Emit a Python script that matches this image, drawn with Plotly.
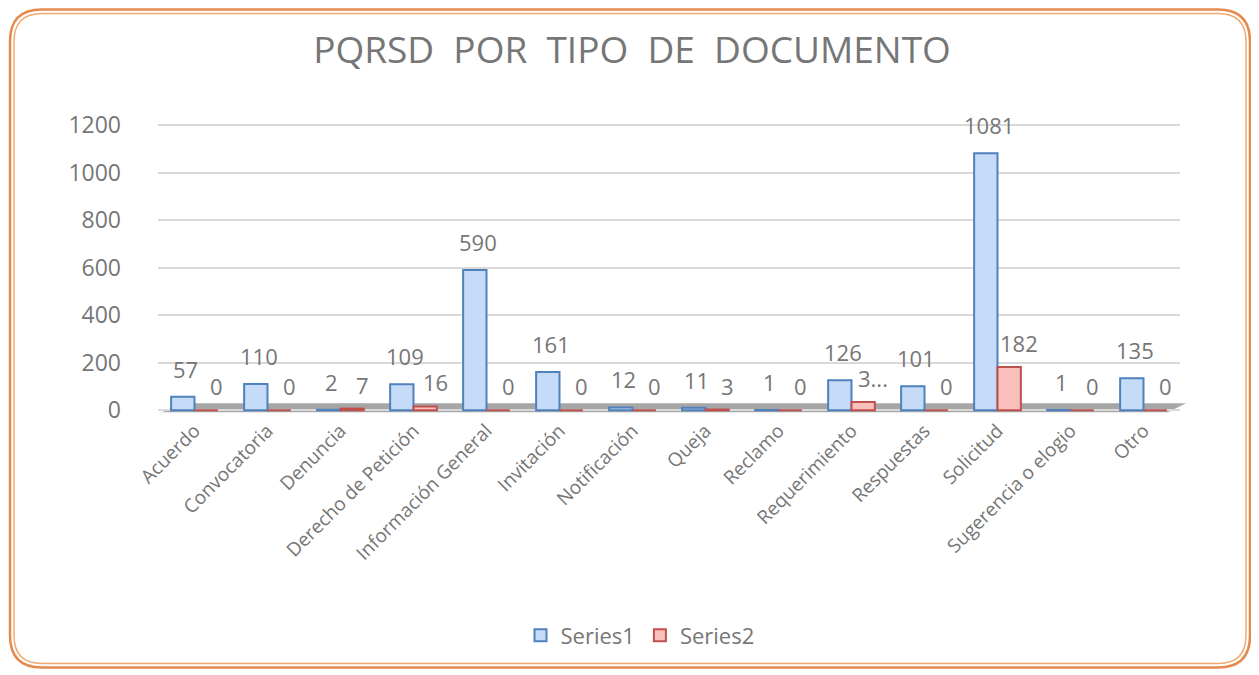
import plotly.graph_objects as go

categories = ["Acuerdo", "Convocatoria", "Denuncia", "Derecho de Petición", "Información General",
              "Invitación", "Notificación", "Queja", "Reclamo", "Requerimiento", "Respuestas",
              "Solicitud", "Sugerencia o elogio", "Otro"]
series1 = [57, 110, 2, 109, 590, 161, 12, 11, 1, 126, 101, 1081, 1, 135]
series2 = [0, 0, 7, 16, 0, 0, 0, 3, 0, 35, 0, 182, 0, 0]
series2_labels = ["0", "0", "7", "16", "0", "0", "0", "3", "0", "3...", "0", "182", "0", "0"]
y_ticks = [0, 200, 400, 600, 800, 1000, 1200]

FONT = "Open Sans"
GRAY = "#767676"
OFF = 8  # page body margin
BARGAP = 0.36

FW, FH = 1259 - OFF, 675 - OFF
# plot area in reference pixel coords
PL, PR, PT, PB = 158, 1180, 120, 414.75
L = PL - OFF
R = FW - (PR - OFF)
T = PT - OFF
B = FH - (PB - OFF)
W = PR - PL
H = PB - PT

def px_x(p):
    return (p - PL) / W

def px_y(p):
    return 1 - (p - PT) / H

fig = go.Figure()
fig.add_trace(go.Bar(
    name="Series1", x=categories, y=series1,
    marker=dict(color="#c6dbf7", line=dict(color="#4f81bd", width=2)),
))
fig.add_trace(go.Bar(
    name="Series2", x=categories, y=series2,
    marker=dict(color="#f9c0bb", line=dict(color="#c0504d", width=2)),
))

# data labels (Excel-style, placed above the bar tops)
bar_w = (1 - BARGAP) / 2
annotations = []
for i, (v1, v2, lab2) in enumerate(zip(series1, series2, series2_labels)):
    annotations.append(dict(x=i - bar_w / 2, y=v1, xref="x", yref="y", text=str(v1),
                            showarrow=False, xanchor="center", yanchor="middle",
                            xshift=3, yshift=28,
                            font=dict(family=FONT, size=22, color=GRAY)))
    annotations.append(dict(x=i + bar_w / 2, y=v2, xref="x", yref="y", text=lab2,
                            showarrow=False, xanchor="center", yanchor="middle",
                            xshift=10, yshift=24,
                            font=dict(family=FONT, size=22, color=GRAY)))

def rounded(x0, y0, x1, y1, r):
    def pt(x, y):
        return f"{px_x(x):.5f},{px_y(y):.5f}"
    return (f"M {pt(x0 + r, y0)} L {pt(x1 - r, y0)} Q {pt(x1, y0)} {pt(x1, y0 + r)} "
            f"L {pt(x1, y1 - r)} Q {pt(x1, y1)} {pt(x1 - r, y1)} "
            f"L {pt(x0 + r, y1)} Q {pt(x0, y1)} {pt(x0, y1 - r)} "
            f"L {pt(x0, y0 + r)} Q {pt(x0, y0)} {pt(x0 + r, y0)} Z")

floor = (f"M {px_x(162):.5f},-8 L {px_x(1168):.5f},-8 L {px_x(1186):.5f},29 "
         f"L {px_x(182):.5f},29 Z")

shapes = [
    dict(type="path", xref="paper", yref="paper", path=rounded(10, 9.5, 1250, 667, 32),
         line=dict(color="#e58a4e", width=2.5), layer="below"),
    dict(type="path", xref="paper", yref="paper", path=rounded(14, 13.5, 1246, 663, 28),
         line=dict(color="#f2a86e", width=1.5), fillcolor="white", layer="below"),
    dict(type="path", xref="paper", yref="y", path=floor,
         fillcolor="#a6a6a6", line=dict(width=0), layer="below"),
]

fig.update_layout(
    width=FW, height=FH,
    margin=dict(l=L, r=R, t=T, b=B, autoexpand=False),
    paper_bgcolor="white", plot_bgcolor="rgba(0,0,0,0)",
    barmode="group", bargap=BARGAP, bargroupgap=0.0,
    title=dict(text="PQRSD  POR  TIPO  DE  DOCUMENTO", x=(632 - OFF) / FW, xref="container",
               xanchor="center", y=1 - (50 - OFF) / FH, yanchor="middle",
               font=dict(family=FONT, size=37, color=GRAY)),
    font=dict(family=FONT, color=GRAY),
    xaxis=dict(tickangle=-45, tickfont=dict(family=FONT, size=19, color=GRAY),
               showline=False, showgrid=False, ticks="", automargin=False),
    yaxis=dict(range=[-20, 1221], tickvals=y_ticks, showgrid=True, gridcolor="#d9d9d9",
               gridwidth=2, zeroline=False, showline=False, automargin=False,
               tickfont=dict(family=FONT, size=23, color=GRAY), ticklabelstandoff=36),
    legend=dict(orientation="h", x=px_x(640), xanchor="center", y=px_y(635), yanchor="middle",
                font=dict(family=FONT, size=22, color=GRAY), traceorder="normal",
                bgcolor="rgba(0,0,0,0)", itemwidth=30),
    shapes=shapes,
    annotations=annotations,
)

fig.write_html("out.html")
